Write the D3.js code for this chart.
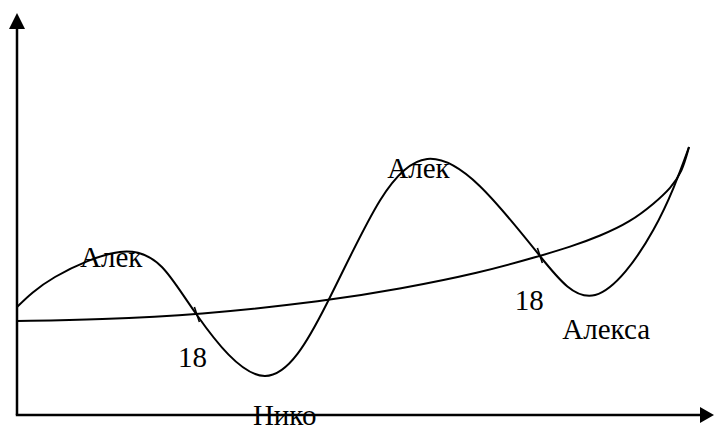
<!DOCTYPE html>
<html>
<head>
<meta charset="utf-8">
<script src="https://cdn.jsdelivr.net/npm/d3@7"></script>
<style>
  html, body { margin: 0; padding: 0; background: #fff; }
  svg { display: block; }
</style>
</head>
<body>
<script>
// ---- data (abstract units: x 0..100, y 0..100) ----
const waveX = [0, 5.43, 14.7, 20.7, 25.7, 35.4, 44.3, 51.9, 58.6, 66.1, 74.7, 82.6, 90.9, 96];
const waveY = [27, 34.5, 40.75, 37, 25, 9.75, 28, 53.75, 64, 57.25, 39.75, 30, 46.25, 67];

const growthX = [0, 11.86, 25.7, 44.3, 54.7, 66.1, 74.7, 79, 83.3, 87.6, 91.1, 93.4, 95, 96];
const growthY = [23.5, 23.9, 25, 28.5, 31.5, 35.5, 39.75, 42, 44.75, 48.25, 53, 56.75, 60.75, 67];

const crossX = [25.7, 74.7];
const crossY = [25, 39.75];

const labels = ["Алек", "Алек", "18", "18", "Алекса", "Нико"];
const labelX = [9, 52.9, 23, 71.1, 77.9, 33.7];
const labelY = [37, 59.25, 12, 26.25, 19, -2.5];

// ---- layout ----
const W = 714, H = 427;
const x = d3.scaleLinear().domain([0, 100]).range([17, 717]);
const y = d3.scaleLinear().domain([0, 100]).range([415, 15]);

const svg = d3.select("body").append("svg").attr("width", W).attr("height", H);

// axes
const ax = x(0), ay = y(0);
svg.append("line").attr("x1", ax).attr("y1", ay).attr("x2", ax).attr("y2", 26)
  .attr("stroke", "#000").attr("stroke-width", 2.5);
svg.append("line").attr("x1", ax - 1.2).attr("y1", ay).attr("x2", 702).attr("y2", ay)
  .attr("stroke", "#000").attr("stroke-width", 2.5);
svg.append("path").attr("d", `M${ax},13 L${ax - 8},29 L${ax + 8},29 Z`).attr("fill", "#000");
svg.append("path").attr("d", `M714,${ay} L700,${ay - 8} L700,${ay + 8} Z`).attr("fill", "#000");

const growthLine = d3.line().x(d => x(d[0])).y(d => y(d[1])).curve(d3.curveBasis);
const waveLine = d3.line().x(d => x(d[0])).y(d => y(d[1])).curve(d3.curveNatural);

svg.append("path").datum(growthX.map((v, i) => [v, growthY[i]]))
  .attr("d", growthLine).attr("fill", "none").attr("stroke", "#000").attr("stroke-width", 2);
svg.append("path").datum(waveX.map((v, i) => [v, waveY[i]]))
  .attr("d", waveLine).attr("fill", "none").attr("stroke", "#000").attr("stroke-width", 2);

// small tick marks at crossings
crossX.forEach((cx, i) => {
  const px = x(cx), py = y(crossY[i]);
  svg.append("line").attr("x1", px - 2.5).attr("y1", py - 8).attr("x2", px + 2.5).attr("y2", py + 7)
    .attr("stroke", "#000").attr("stroke-width", 1.6);
});

labels.forEach((t, i) => {
  svg.append("text").attr("x", x(labelX[i])).attr("y", y(labelY[i]))
    .attr("font-family", "'Liberation Serif', 'Times New Roman', serif")
    .attr("font-size", 29).attr("fill", "#000").text(t);
});
</script>
</body>
</html>
